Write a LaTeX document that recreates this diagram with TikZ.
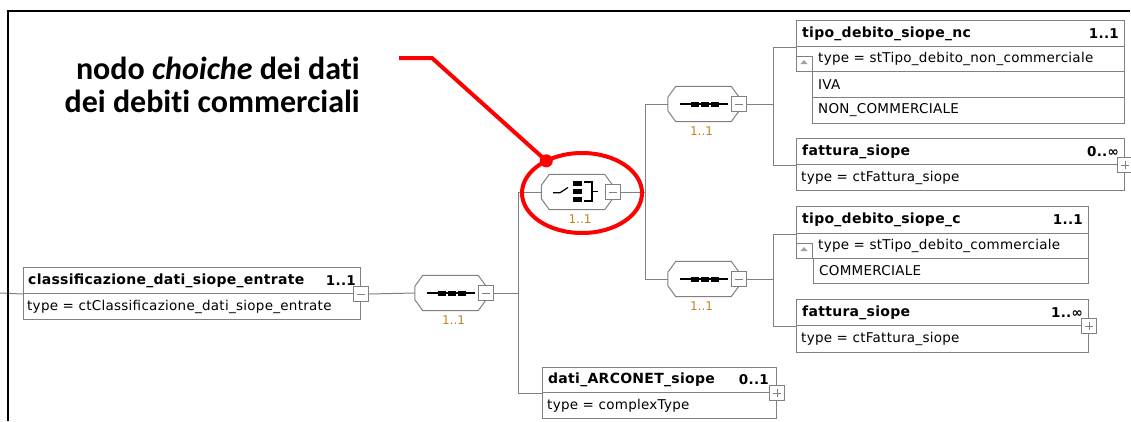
\documentclass[tikz,border=0pt]{standalone}
\usepackage{fontspec}
\setmainfont{DejaVu Sans}
\newfontfamily\dfont[LetterSpace=2]{DejaVu Sans}
\newfontfamily\callfont[Ligatures=NoCommon]{Carlito}
\usetikzlibrary{shapes.geometric,calc}
\definecolor{lin}{RGB}{128,128,128}
\definecolor{cardc}{RGB}{195,130,35}
\definecolor{ann}{RGB}{255,0,0}
\definecolor{tri}{RGB}{160,160,160}
\pgfdeclarelayer{bg}
\pgfsetlayers{bg,main}
\newcommand\octo[1]{%
  \draw[conn, fill=white] ([xshift=8pt]#1.north west) -- ([xshift=-8pt]#1.north east)
    -- ([yshift=-11pt]#1.north east) -- ([yshift=11pt]#1.south east)
    -- ([xshift=-8pt]#1.south east) -- ([xshift=8pt]#1.south west)
    -- ([yshift=11pt]#1.south west) -- ([yshift=-11pt]#1.north west) -- cycle;}
\newcommand\seqsym[1]{%
  \begin{scope}[shift={(#1.center)}]
    \draw[black, line width=1.2pt] (-24,0) -- (24,0);
    \fill[black] (-13,-2.5) rectangle (-4.5,2.5);
    \fill[black] (-3,-2.5) rectangle (5.5,2.5);
    \fill[black] (7,-2.5) rectangle (15.5,2.5);
  \end{scope}}
\begin{document}
\begin{tikzpicture}[x=1pt,y=-1pt,
  row/.style={draw=lin, line width=1pt, fill=white, rectangle, anchor=north west, inner sep=0pt},
  ttl/.style={font=\dfont\fontsize{14}{16}\selectfont\bfseries, anchor=west, inner sep=0pt, text=black},
  txt/.style={font=\dfont\fontsize{13.5}{16}\selectfont, anchor=west, inner sep=0pt, text=black},
  crd/.style={font=\dfont\fontsize{13.5}{16}\selectfont\bfseries, anchor=east, inner sep=0pt, text=black},
  conn/.style={draw=lin, line width=1pt},
  grp/.style={rectangle, minimum width=71pt, minimum height=35pt, inner sep=0pt},
  expb/.style={draw=lin, line width=1pt, fill=white, rectangle, minimum size=15pt, inner sep=0pt},
  expminus/.style={expb, path picture={\draw[lin, line width=1pt]
     ([xshift=-4pt]path picture bounding box.center) -- ([xshift=4pt]path picture bounding box.center);}},
  expplus/.style={expb, path picture={\draw[lin, line width=1pt]
     ([xshift=-4pt]path picture bounding box.center) -- ([xshift=4pt]path picture bounding box.center)
     ([yshift=-4pt]path picture bounding box.center) -- ([yshift=4pt]path picture bounding box.center);}},
  occ/.style={font=\fontsize{12}{14}\selectfont, text=cardc, inner sep=0pt},
  callout/.style={font=\callfont\fontsize{32}{34}\selectfont\bfseries, text=black, inner sep=0pt, anchor=base east},
  hilite/.style={draw=ann, line width=4pt, ellipse, inner sep=0pt, outer sep=0pt},
  annline/.style={draw=ann, line width=4pt}
]
\useasboundingbox (0,0) rectangle (1131,421);
\draw[black, line width=1.5pt] (1130,11) -- (8,11) -- (8,421);

% ---- group nodes (octagons) ----
\node[grp] (s1) at (450.5,293) {};
\node[grp] (ch) at (577,192) {};
\node[grp] (s2) at (703.5,104) {};
\node[grp] (s3) at (703.5,279) {};
\octo{s1}\octo{ch}\octo{s2}\octo{s3}
\seqsym{s1}\seqsym{s2}\seqsym{s3}
\begin{scope}[shift={(ch.center)}]
  \draw[black, line width=1.2pt] (-24,0.7) -- (-17,0.7) -- (-9,-4.5);
  \fill[black] (-4,-11) rectangle (4.5,-5.8);
  \fill[black] (-4,-3) rectangle (4.5,2.2);
  \fill[black] (-4,4.7) rectangle (4.5,9.9);
  \draw[black, line width=1.2pt] (7,-10) -- (15,-10) -- (15,9) -- (7,9);
  \draw[black, line width=1.2pt] (15,-0.5) -- (21,-0.5);
\end{scope}
\node[expminus] (s1E) at (s1.east) {};
\node[expminus] (chE) at (ch.east) {};
\node[expminus] (s2E) at (s2.east) {};
\node[expminus] (s3E) at (s3.east) {};
\node[occ, anchor=north] at ([xshift=3pt,yshift=-5pt]s1.south) {1..1};
\node[occ, anchor=north] at ([xshift=3pt,yshift=-5pt]ch.south) {1..1};
\node[occ, anchor=north] at ([xshift=-2pt,yshift=-5pt]s2.south) {1..1};
\node[occ, anchor=north] at ([xshift=-2pt,yshift=-5pt]s3.south) {1..1};

% ---- classificazione ----
\node[row, minimum width=337pt, minimum height=26pt] (clT) at (23,267) {};
\node[row, minimum width=337pt, minimum height=26pt] (clY) at (23,293) {};
\node[ttl] at ([xshift=5pt]clT.west) {classificazione\_dati\_siope\_entrate};
\node[crd] at ([xshift=-5pt]clT.east) {1..1};
\node[txt] at ([xshift=4pt]clY.west) {type = ctClassificazione\_dati\_siope\_entrate};
\node[expminus] (clE) at (clT.south east) {};

% ---- dati_ARCONET_siope ----
\node[row, minimum width=234pt, minimum height=25pt] (arcT) at (542,367) {};
\node[row, minimum width=234pt, minimum height=26pt] (arcY) at (542,392) {};
\node[ttl] at ([xshift=6pt]arcT.west) {dati\_ARCONET\_siope};
\node[crd] at ([xshift=-8pt]arcT.east) {0..1};
\node[txt] at ([xshift=5pt]arcY.west) {type = complexType};
\node[expplus] (arcE) at (arcT.south east) {};

% ---- tipo_debito_siope_nc ----
\node[row, minimum width=312pt, minimum height=26pt] (ncE2) at (812,97) {};
\node[row, minimum width=312pt, minimum height=26pt] (ncE1) at (812,71) {};
\node[row, minimum width=328pt, minimum height=26pt] (ncT) at (796,20) {};
\node[row, minimum width=328pt, minimum height=25pt] (ncY) at (796,46) {};
\node[row, minimum width=16pt, minimum height=15pt] (ncA) at (796,56) {};
\fill[tri] ([shift={(8pt,-4pt)}]ncA.north west) -- ([shift={(4.5pt,-8pt)}]ncA.north west) -- ([shift={(11.5pt,-8pt)}]ncA.north west) -- cycle;
\node[ttl] at ([xshift=6pt]ncT.west) {tipo\_debito\_siope\_nc};
\node[crd] at ([xshift=-6pt]ncT.east) {1..1};
\node[txt] at ([xshift=22pt]ncY.west) {type = stTipo\_debito\_non\_commerciale};
\node[txt] at ([xshift=6pt]ncE1.west) {IVA};
\node[txt] at ([xshift=6pt]ncE2.west) {NON\_COMMERCIALE};

% ---- fattura_siope (top) ----
\node[row, minimum width=328pt, minimum height=26pt] (fs1T) at (796,138) {};
\node[row, minimum width=328pt, minimum height=26pt] (fs1Y) at (796,164) {};
\node[ttl] at ([xshift=6pt]fs1T.west) {fattura\_siope};
\node[crd] at ([xshift=-6pt]fs1T.east) {0..∞};
\node[txt] at ([xshift=5pt]fs1Y.west) {type = ctFattura\_siope};
\node[expplus] (fs1E) at (fs1T.south east) {};

% ---- tipo_debito_siope_c ----
\node[row, minimum width=275pt, minimum height=25pt] (cE1) at (813,258) {};
\node[row, minimum width=292pt, minimum height=27pt] (cT) at (796,206) {};
\node[row, minimum width=292pt, minimum height=25pt] (cY) at (796,233) {};
\node[row, minimum width=16pt, minimum height=15pt] (cA) at (796,243) {};
\fill[tri] ([shift={(8pt,-4pt)}]cA.north west) -- ([shift={(4.5pt,-8pt)}]cA.north west) -- ([shift={(11.5pt,-8pt)}]cA.north west) -- cycle;
\node[ttl] at ([xshift=6pt]cT.west) {tipo\_debito\_siope\_c};
\node[crd] at ([xshift=-6pt]cT.east) {1..1};
\node[txt] at ([xshift=22pt]cY.west) {type = stTipo\_debito\_commerciale};
\node[txt] at ([xshift=6pt]cE1.west) {COMMERCIALE};

% ---- fattura_siope (bottom) ----
\node[row, minimum width=292pt, minimum height=26pt] (fs2T) at (796,299) {};
\node[row, minimum width=292pt, minimum height=27pt] (fs2Y) at (796,325) {};
\node[ttl] at ([xshift=6pt]fs2T.west) {fattura\_siope};
\node[crd] at ([xshift=-6pt]fs2T.east) {1..∞};
\node[txt] at ([xshift=5pt]fs2Y.west) {type = ctFattura\_siope};
\node[expplus] (fs2E) at (fs2T.south east) {};

% ---- connectors ----
\begin{pgfonlayer}{bg}
  \coordinate (src) at (0,293);
  \coordinate (b1) at (518,293);
  \coordinate (b2) at (645,192);
  \coordinate (b3) at (773,104);
  \coordinate (b4) at (773,279);
  \draw[conn] (src) -- (clT.south west);
  \draw[conn] (clE.east) -- (s1.west);
  \draw[conn] (s1E.east) -- (b1);
  \draw[conn] (ch.west) -| (b1);
  \draw[conn] (b1) |- (arcT.south west);
  \draw[conn] (chE.east) -- (b2);
  \draw[conn] (s2.west) -| (b2);
  \draw[conn] (s3.west) -| (b2);
  \draw[conn] (s2E.east) -- (b3);
  \draw[conn] (ncT.south west) -| (b3);
  \draw[conn] (b3) |- (fs1T.south west);
  \draw[conn] (s3E.east) -- (b4);
  \draw[conn] (cT.south west) -| (b4);
  \draw[conn] (b4) |- (fs2T.south west);
\end{pgfonlayer}

% ---- annotation ----
\node[callout] (cap1) at (360,79) {nodo \textit{choiche} dei dati};
\node[callout] (cap2) at (360,112) {dei debiti commerciali};
\node[hilite, minimum width=120pt, minimum height=80pt] (hl) at (582,193) {};
\coordinate (p0) at (399,58);
\coordinate (p1) at (432,58);
\draw[annline] (p0) -- (p1) -- (hl.138);
\fill[ann] (hl.138) circle[radius=6.5pt];
\end{tikzpicture}
\end{document}
